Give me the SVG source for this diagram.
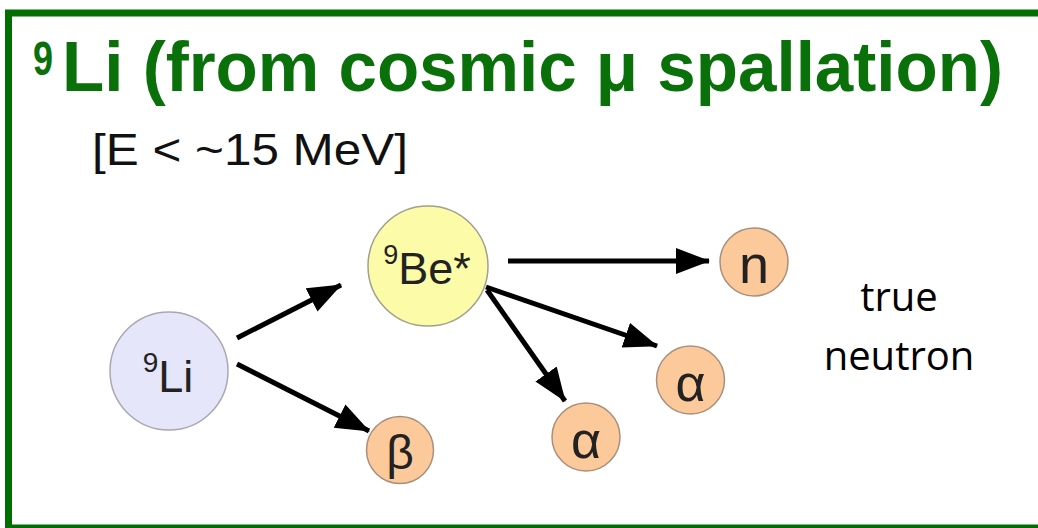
<svg xmlns="http://www.w3.org/2000/svg" width="1038" height="528" viewBox="0 0 1038 528">
<style>
.title{font-family:"Liberation Sans",Arial,sans-serif;font-weight:bold;fill:#0a700a}
.sub{font-family:"Liberation Sans",Arial,sans-serif;fill:#111}
.lbl{font-family:"Liberation Sans",Arial,sans-serif;fill:#222;text-anchor:middle}
.note{font-family:"Open Sans",sans-serif;fill:#000;text-anchor:middle;font-size:40px}
.edge{stroke:#000;stroke-width:5;fill:none;marker-end:url(#ah)}
.small{fill:#fcc99b;stroke:#a8907c;stroke-width:1.5}
</style>
<defs>
<marker id="ah" markerUnits="userSpaceOnUse" markerWidth="36" markerHeight="28" refX="33" refY="13" orient="auto">
<path d="M0,0 L34,13 L0,26 z" fill="#000"/>
</marker>
</defs>
<rect x="0" y="0" width="1038" height="528" fill="#fff"/>
<rect x="8.5" y="13" width="1100" height="515" fill="none" stroke="#006e00" stroke-width="7"/>
<g id="title">
<text class="title" x="33" y="75" font-size="48" textLength="20" lengthAdjust="spacingAndGlyphs">9</text>
<text class="title" x="62" y="91" font-size="71" textLength="941" lengthAdjust="spacingAndGlyphs">Li (from cosmic μ spallation)</text>
</g>
<text class="sub" x="92" y="165" font-size="45" textLength="316" lengthAdjust="spacingAndGlyphs">[E &lt; ~15 MeV]</text>
<g id="connectors">
<line class="edge" x1="237" y1="338" x2="341" y2="285"/>
<line class="edge" x1="237" y1="364" x2="369" y2="431"/>
<line class="edge" x1="508" y1="261" x2="709" y2="261"/>
<line class="edge" x1="486" y1="287" x2="657" y2="346"/>
<line class="edge" x1="487" y1="290" x2="565" y2="401"/>
</g>
<g id="node-li9">
<circle cx="169" cy="371" r="59" fill="#e6e6fa" stroke="#a8a8b4" stroke-width="1.5"/>
<text class="lbl" x="168" y="392" font-size="45"><tspan font-size="28" dy="-20">9</tspan><tspan dy="20">Li</tspan></text>
</g>
<g id="node-be9">
<circle cx="428" cy="266" r="60" fill="#fcfba8" stroke="#a0a08c" stroke-width="1.5"/>
<text class="lbl" x="427" y="284" font-size="45"><tspan font-size="27" dy="-20">9</tspan><tspan dy="20">Be*</tspan></text>
</g>
<g id="node-beta">
<circle class="small" cx="400" cy="450" r="33.5"/>
<text class="lbl" x="400" y="469" font-size="48">β</text>
</g>
<g id="node-n">
<circle class="small" cx="754" cy="262" r="34"/>
<text class="lbl" x="754" y="283" font-size="54">n</text>
</g>
<g id="node-alpha1">
<circle class="small" cx="690.5" cy="380" r="34"/>
<text class="lbl" x="690.5" y="401" font-size="52">α</text>
</g>
<g id="node-alpha2">
<circle class="small" cx="586" cy="437" r="34"/>
<text class="lbl" x="586" y="458" font-size="52">α</text>
</g>
<g id="note">
<text class="note" x="899" y="311">true</text>
<text class="note" x="899" y="370">neutron</text>
</g>
</svg>
